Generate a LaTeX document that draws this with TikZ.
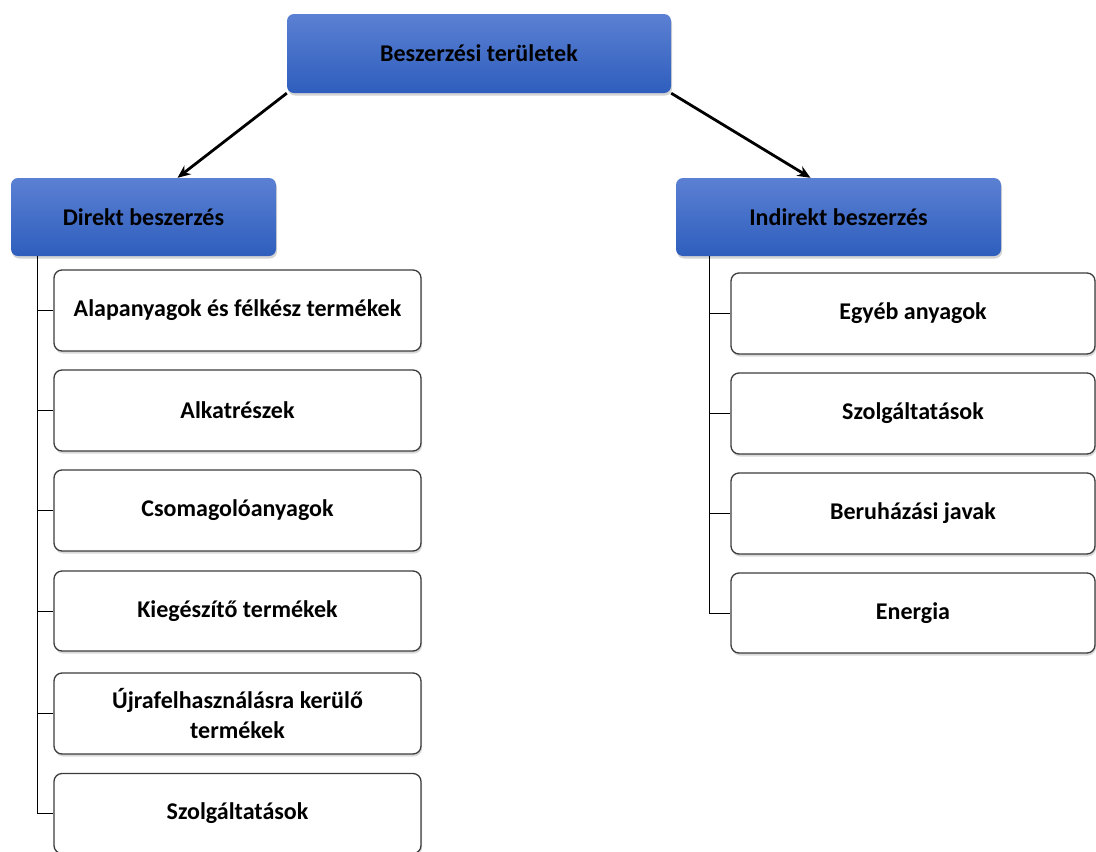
\documentclass[tikz,border=0pt]{standalone}
\usepackage{fontspec}
\setmainfont{Carlito}
\usetikzlibrary{shadows,arrows.meta}
\definecolor{bluetop}{HTML}{5B80D3}
\definecolor{bluebot}{HTML}{2E5EBD}
\definecolor{edgegray}{HTML}{3C3C3C}
\tikzset{
  every node/.style={font=\fontsize{24}{29}\selectfont\bfseries},
  headbox/.style={rectangle, rounded corners=7pt, top color=bluetop, bottom color=bluebot,
    draw=none, align=center, inner sep=0pt,
    drop shadow={opacity=0.35, shadow xshift=1pt, shadow yshift=-2.5pt}},
  itembox/.style={rectangle, rounded corners=8pt, fill=white, draw=edgegray, line width=1.3pt,
    align=center, inner sep=0pt,
    drop shadow={opacity=0.3, shadow xshift=1pt, shadow yshift=-2.5pt}},
  treeline/.style={draw=black, line width=1pt},
  mainarrow/.style={draw=black, line width=2.8pt, -{Stealth[length=13pt,width=11pt]}}
}
\begin{document}
\begin{tikzpicture}[x=1pt,y=-1pt]
  \useasboundingbox (0,0) rectangle (1096,852);

  % top level
  \node[headbox, minimum width=384pt, minimum height=79pt] (top) at (479,53.5) {Beszerzési területek};

  % second level
  \node[headbox, minimum width=265pt, minimum height=78pt] (dir) at (143.5,217) {Direkt beszerzés};
  \node[headbox, minimum width=325pt, minimum height=78pt] (ind) at (838.5,217) {Indirekt beszerzés};

  % direct procurement items
  \node[itembox, minimum width=367pt, minimum height=81pt] (d1) at (237.5,310.5) {Alapanyagok és félkész termékek};
  \node[itembox, minimum width=367pt, minimum height=81pt] (d2) at (237.5,410.5) {Alkatrészek};
  \node[itembox, minimum width=367pt, minimum height=81pt] (d3) at (237.5,510.5) {Csomagolóanyagok};
  \node[itembox, minimum width=367pt, minimum height=80pt] (d4) at (237.5,611) {Kiegészítő termékek};
  \node[itembox, minimum width=367pt, minimum height=81pt] (d5) at (237.5,713.5) {Újrafelhasználásra kerülő\\termékek};
  \node[itembox, minimum width=367pt, minimum height=80pt] (d6) at (237.5,813.5) {Szolgáltatások};

  % indirect procurement items
  \node[itembox, minimum width=364pt, minimum height=81pt] (i1) at (913,313.5) {Egyéb anyagok};
  \node[itembox, minimum width=364pt, minimum height=81pt] (i2) at (913,413.5) {Szolgáltatások};
  \node[itembox, minimum width=364pt, minimum height=81pt] (i3) at (913,513.5) {Beruházási javak};
  \node[itembox, minimum width=364pt, minimum height=80pt] (i4) at (913,613) {Energia};

  % arrows from the top box
  \draw[mainarrow] (top.south west) -- ([xshift=34pt]dir.north);
  \draw[mainarrow] (top.south east) -- ([xshift=-28pt]ind.north);

  % tree lines, direct side
  \coordinate (dl) at ([xshift=-106.5pt]dir.south);
  \draw[treeline] (dl) |- (d6.west);
  \foreach \k in {1,...,5} \draw[treeline] (d\k.west) -- (d\k.west -| dl);

  % tree lines, indirect side
  \coordinate (il) at ([xshift=-129.5pt]ind.south);
  \draw[treeline] (il) |- (i4.west);
  \foreach \k in {1,...,3} \draw[treeline] (i\k.west) -- (i\k.west -| il);
\end{tikzpicture}
\end{document}
